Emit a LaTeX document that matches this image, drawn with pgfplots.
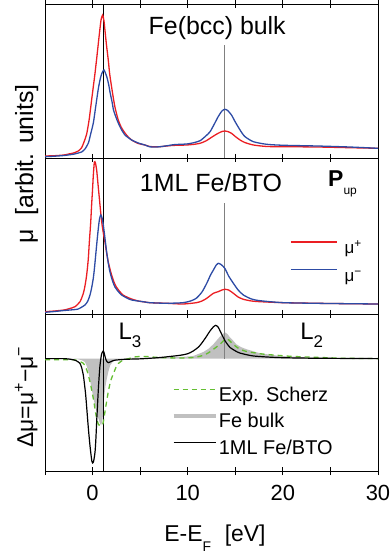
\documentclass[border=0pt]{standalone}
\usepackage{fontspec}
\setmainfont{Liberation Sans}
\usepackage{pgfplots}
\pgfplotsset{compat=1.18}
\definecolor{myred}{RGB}{235,30,35}
\definecolor{myblue}{RGB}{45,75,165}
\definecolor{mygreen}{RGB}{100,190,50}
\definecolor{mygray}{RGB}{192,192,192}
\definecolor{vgray}{RGB}{128,128,128}
\pgfplotsset{
  panel/.style={scale only axis, width=333bp, xmin=-5, xmax=30,
    anchor=south west, tick align=center,
    major tick length=8bp, minor tick length=5bp,
    axis line style={line width=0.9bp},
    every tick/.style={line width=0.8bp, black},
    xtick={-5,0,...,30}, ytick=\empty, yticklabels={},
    legend cell align=left},
}
\begin{document}
\begin{tikzpicture}
% ---------------- bottom panel ----------------
\begin{axis}[panel, at={(0bp,0bp)}, height=157bp, ymin=-5.06, ymax=2.01,
  minor ytick={-5,-4,...,2}, xtick pos=both,
  xticklabels={,0,,10,,20,,30},
  xticklabel style={font=\fontsize{22}{22}\selectfont, yshift=-7bp},
  legend image code/.code={\draw[#1] (0bp,6.5bp) -- (42bp,6.5bp);},
  legend style={draw=none, fill=none, font=\fontsize{20}{20}\selectfont,
    at={(rel axis cs:0.379,0.562)}, anchor=north west, inner sep=0pt,
    row sep=0bp, column sep=-3bp,
    nodes={inner sep=4bp, text height=14.5bp, text depth=4bp}},
]
\addplot[fill=mygray, draw=none, forget plot] coordinates {
(-5,0) (-2,0) (-1.5,-0.03) (-1.1,-0.08) (-0.8,-0.15) (-0.6,-0.35) (-0.44,-0.6) (-0.25,-1.0) (-0.1,-1.35) (0.1,-1.8) (0.26,-2.1) (0.45,-2.45) (0.61,-2.7) (0.78,-2.92) (0.9,-3.0) (1.03,-2.8) (1.12,-2.4) (1.24,-1.65) (1.35,-1.25) (1.5,-0.9) (1.65,-0.6) (1.85,-0.3) (2.1,-0.15) (2.4,-0.06) (3,0.0) (4,0.03) (6,0.03) (8,0.05) (9.5,0.08) (10.6,0.12) (11.65,0.3) (12.2,0.45) (12.7,0.65) (13.1,0.85) (13.4,1.0) (13.7,1.12) (13.93,1.18) (14.2,1.1) (14.45,0.95) (14.8,0.8) (15.1,0.65) (15.6,0.52) (16.2,0.42) (17.6,0.24) (19.7,0.12) (22.8,0.05) (26,0.02) (30,0.0)
} \closedcycle;
\addplot[vgray, line width=0.9bp, forget plot] coordinates {(13.9,0) (13.9,2.01)};
\addplot[black, line width=0.8bp, forget plot] coordinates {(1.13,-5.06) (1.13,2.01)};
\addplot[mygreen, line width=1.3bp, dash pattern=on 5bp off 4bp, smooth, tension=0.4, forget plot] coordinates {
(-5,-0.05) (-3,-0.05) (-2,-0.05) (-1.5,-0.1) (-1.0,-0.2) (-0.8,-0.3) (-0.5,-0.65) (-0.27,-1.05) (-0.1,-1.4) (0.08,-1.8) (0.25,-2.25) (0.43,-2.7) (0.6,-2.95) (0.78,-3.03) (1.03,-3.0) (1.15,-2.8) (1.3,-2.4) (1.45,-2.0) (1.65,-1.5) (1.9,-1.0) (2.2,-0.67) (2.45,-0.4) (2.7,-0.22) (3.2,-0.07) (3.8,0.0) (4.5,0.08) (5.5,0.1) (7,0.05) (9,0.03) (10.6,0.05) (11.65,0.15) (12.2,0.27) (12.7,0.42) (13.1,0.55) (13.4,0.65) (13.7,0.78) (14.0,0.88) (14.3,0.85) (14.6,0.72) (15.0,0.57) (15.5,0.42) (16.2,0.32) (16.9,0.27) (18,0.2) (19.4,0.15) (21,0.1) (22.8,0.07) (26.2,0.02) (30,0.0)
};
\addplot[black, line width=1.2bp, smooth, tension=0.4, forget plot] coordinates {
(-5,0) (-3,0) (-2.3,-0.03) (-1.85,-0.07) (-1.5,-0.15) (-1.32,-0.22) (-1.15,-0.4) (-0.97,-0.75) (-0.85,-1.15) (-0.72,-1.65) (-0.58,-2.4) (-0.44,-3.15) (-0.3,-3.8) (-0.2,-4.2) (-0.08,-4.6) (0.01,-4.7) (0.12,-4.6) (0.26,-4.2) (0.35,-3.6) (0.43,-2.85) (0.52,-2.1) (0.61,-1.35) (0.7,-0.75) (0.78,-0.3) (0.87,0.0) (0.96,0.22) (1.13,0.35) (1.25,0.2) (1.37,0.0) (1.5,-0.13) (1.65,-0.18) (1.8,-0.16) (2.0,-0.12) (2.35,-0.07) (3.4,-0.03) (5,-0.01) (7.1,0.05) (9.2,0.15) (10.0,0.22) (10.6,0.35) (11.2,0.55) (11.65,0.8) (12.0,1.02) (12.35,1.25) (12.7,1.43) (12.95,1.5) (13.2,1.42) (13.4,1.25) (13.65,1.03) (13.93,0.8) (14.2,0.63) (14.45,0.5) (15.0,0.35) (15.5,0.25) (16.9,0.12) (19.4,0.05) (23,0.02) (30,0.0)
};
\addlegendimage{mygreen, line width=1.3bp, dash pattern=on 5bp off 4bp}
\addlegendentry{Exp. Scherz}
\addlegendimage{mygray, line width=4.5bp}
\addlegendentry{Fe bulk}
\addlegendimage{black, line width=1.2bp}
\addlegendentry{1ML Fe/BTO}
\node[anchor=base west, font=\fontsize{24}{24}\selectfont] at (axis cs:2.36,0.84) {L\raisebox{-7.7bp}{\fontsize{17}{17}\selectfont 3}};
\node[anchor=base west, font=\fontsize{24}{24}\selectfont] at (axis cs:21.46,0.84) {L\raisebox{-7.7bp}{\fontsize{17}{17}\selectfont 2}};
\end{axis}
% ---------------- middle panel ----------------
\begin{axis}[panel, at={(0bp,157bp)}, height=156bp, ymin=-0.1, ymax=15.5,
  minor ytick={0.5,1.44,...,15.5}, xtick pos=upper, xticklabels={},
  legend image code/.code={\draw[#1] (0bp,5bp) -- (46bp,5bp);},
  legend style={draw=none, fill=none, font=\fontsize{17}{17}\selectfont,
    at={(rel axis cs:0.736,0.52)}, anchor=north west, inner sep=0pt,
    row sep=0bp, column sep=4bp,
    nodes={inner sep=3bp, text height=17.5bp, text depth=4.2bp}},
]
\addplot[vgray, line width=0.9bp, forget plot] coordinates {(13.9,-0.1) (13.9,11.0)};
\addplot[black, line width=0.8bp, forget plot] coordinates {(1.13,-0.1) (1.13,15.5)};
\addplot[myred, line width=1.3bp, smooth, tension=0.4] coordinates {
(-5,0.13) (-4,0.2) (-3,0.3) (-2.5,0.42) (-1.85,0.63) (-1.32,1.13) (-0.97,1.97) (-0.8,2.7) (-0.62,3.8) (-0.45,5.4) (-0.34,7.1) (-0.2,9.0) (-0.1,10.8) (0.0,12.4) (0.08,13.8) (0.19,15.1) (0.3,15.0) (0.43,14.3) (0.55,13.1) (0.68,11.8) (0.82,10.4) (0.96,9.1) (1.13,8.0) (1.3,7.1) (1.48,6.0) (1.65,5.1) (1.83,4.4) (2.0,3.8) (2.25,3.1) (2.5,2.6) (2.85,2.15) (3.2,1.8) (3.6,1.6) (4.1,1.4) (4.8,1.2) (5.5,1.1) (6.0,1.03) (7.8,0.97) (9.5,0.9) (10.9,1.03) (11.5,1.2) (12.0,1.47) (12.7,1.97) (13.2,2.13) (13.6,2.3) (13.9,2.37) (14.3,2.3) (14.8,1.97) (15.3,1.6) (15.85,1.37) (16.7,1.2) (17.6,1.13) (20.1,1.03) (25,0.95) (30,0.9)
};
\addlegendentry{μ\textsuperscript{+}}
\addplot[myblue, line width=1.3bp, smooth, tension=0.4] coordinates {
(-5,0.07) (-4,0.15) (-3,0.25) (-2,0.33) (-1.5,0.4) (-0.8,0.8) (-0.5,1.2) (-0.27,1.8) (-0.1,2.5) (0.08,3.5) (0.2,4.5) (0.33,5.8) (0.47,7.2) (0.61,8.5) (0.73,9.4) (0.86,9.8) (1.0,9.5) (1.13,8.8) (1.3,7.5) (1.48,6.1) (1.65,5.0) (1.83,4.1) (2.1,3.2) (2.35,2.6) (2.7,2.15) (3.05,1.8) (3.6,1.5) (4.1,1.3) (5.5,1.1) (6.0,1.03) (7.8,0.97) (9.5,1.03) (10.3,1.2) (10.9,1.47) (11.5,2.1) (12.0,2.97) (12.4,3.8) (12.7,4.3) (13.0,4.8) (13.2,4.97) (13.5,4.85) (13.9,4.47) (14.3,3.7) (14.8,2.97) (15.3,2.3) (15.85,1.8) (16.7,1.4) (17.6,1.23) (20.1,1.03) (25,0.95) (30,0.9)
};
\addlegendentry{μ\textsuperscript{−}}
\node[anchor=base, font=\fontsize{25}{25}\selectfont] at (axis cs:12.45,12.1) {1ML Fe/BTO};
\node[anchor=base west, font=\fontsize{23}{23}\selectfont] at (axis cs:24.4,12.6) {\textbf{P}\raisebox{-7.6bp}{\fontsize{12}{12}\selectfont up}};
\end{axis}
% ---------------- top panel ----------------
\begin{axis}[panel, at={(0bp,313bp)}, height=154bp, ymin=-0.1, ymax=15.3,
  minor ytick={0.6,1.54,...,15.3}, xtick pos=upper, xticklabels={},
]
\addplot[vgray, line width=0.9bp] coordinates {(13.9,-0.1) (13.9,11.2)};
\addplot[black, line width=0.8bp] coordinates {(1.13,-0.1) (1.13,15.3)};
\addplot[myred, line width=1.3bp, smooth, tension=0.4] coordinates {
(-5,0.1) (-4,0.13) (-3,0.2) (-2.5,0.3) (-2,0.4) (-1.5,0.6) (-1.15,0.93) (-0.9,1.5) (-0.62,2.3) (-0.35,3.8) (-0.1,5.7) (0.1,7.2) (0.26,8.4) (0.45,10.0) (0.61,11.4) (0.75,12.6) (0.89,13.7) (1.06,14.2) (1.2,13.6) (1.3,12.7) (1.45,11.3) (1.65,9.7) (1.8,8.3) (2.0,7.0) (2.2,5.8) (2.35,5.0) (2.5,4.4) (2.7,3.7) (3.0,3.0) (3.4,2.4) (3.8,1.95) (4.1,1.7) (4.8,1.35) (5.5,1.2) (6.0,1.05) (6.6,1.02) (7.1,1.03) (8.0,1.12) (8.5,1.16) (9.2,1.18) (9.9,1.2) (10.6,1.26) (11.3,1.37) (11.9,1.6) (12.35,1.87) (12.8,2.15) (13.2,2.37) (13.6,2.55) (13.9,2.6) (14.2,2.55) (14.6,2.37) (15.0,2.05) (15.5,1.7) (16.0,1.45) (16.9,1.2) (18.3,1.05) (20.1,1.03) (23.6,1.0) (27,0.93) (30,0.87)
};
\addplot[myblue, line width=1.3bp, smooth, tension=0.4] coordinates {
(-5,0.03) (-4,0.08) (-3,0.15) (-2,0.28) (-1.5,0.4) (-1.15,0.5) (-0.8,0.8) (-0.44,1.4) (-0.2,2.3) (0.08,3.4) (0.25,4.5) (0.43,5.7) (0.6,6.8) (0.78,7.7) (0.95,8.3) (1.2,8.7) (1.5,8.0) (1.7,7.2) (1.85,6.4) (2.05,5.5) (2.2,4.7) (2.45,4.0) (2.7,3.4) (3.0,2.8) (3.4,2.2) (3.8,1.9) (4.1,1.7) (4.8,1.4) (5.5,1.2) (6.0,1.02) (6.6,1.0) (7.1,1.03) (8.0,1.15) (8.5,1.23) (9.2,1.27) (9.9,1.3) (10.6,1.42) (11.3,1.63) (11.9,2.1) (12.35,2.53) (12.8,3.3) (13.2,4.03) (13.6,4.6) (13.9,4.77) (14.2,4.65) (14.6,4.2) (15.0,3.5) (15.5,2.7) (16.0,2.05) (16.9,1.53) (18.3,1.27) (20.1,1.17) (23.6,1.1) (27,1.0) (30,0.87)
};
\node[anchor=base, font=\fontsize{25}{25}\selectfont] at (axis cs:13.1,12.2) {Fe(bcc) bulk};
\end{axis}
% ---------------- outer labels ----------------
\node[rotate=90, anchor=base, font=\fontsize{25}{25}\selectfont] at (-12bp,307bp) {μ\hspace{0.55em}[arbit. units]};
\node[rotate=90, anchor=base, font=\fontsize{23}{23}\selectfont] at (-12bp,74bp) {Δμ=μ\textsuperscript{+}−μ\textsuperscript{−}};
\node[anchor=base, font=\fontsize{23}{23}\selectfont] at (170bp,-70.7bp) {E-E\raisebox{-10bp}{\fontsize{14}{14}\selectfont F}\hspace{0.6em}[eV]};
\pgfresetboundingbox
\useasboundingbox (-45bp,-83bp) rectangle (346bp,471bp);
\end{tikzpicture}
\end{document}
